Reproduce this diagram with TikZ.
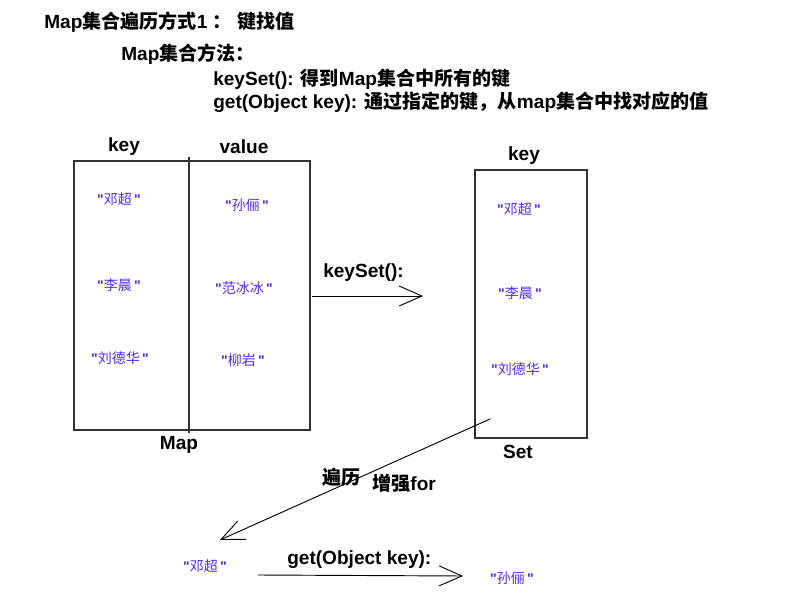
\documentclass[tikz,border=0pt]{standalone}
\usepackage{fontspec}
\setmainfont{Liberation Sans}
\newfontfamily\cjk{Noto Sans CJK SC}
\newfontfamily\qfont{Liberation Sans}
\newcommand{\zh}[1]{{\cjk #1}}
\newcommand{\q}[1]{{\qfont\bfseries"}\zh{#1}\,{\qfont\bfseries"}}
\definecolor{nameblue}{RGB}{80,40,240}
\usetikzlibrary{arrows.meta,positioning}

\begin{document}
\begin{tikzpicture}[x=0.75pt,y=-0.75pt,line cap=rect]
  \tikzstyle{boldtext}=[font=\fontsize{14.3}{16}\selectfont\bfseries,inner sep=0pt];
  \tikzstyle{person}=[font=\fontsize{10.5}{12}\selectfont,text=nameblue,inner sep=0pt];
  \tikzstyle{box}=[draw=black!80,line width=0.9pt,inner sep=0pt];
  \tikzstyle{barb}=[line width=0.7pt,-{Straight Barb[length=17pt,width=15pt,line width=0.7pt]}];
  \useasboundingbox (0,0) rectangle (793,613);

  % heading
  \node[boldtext,anchor=west] (title) at (44,22) {Map\zh{集合遍历方式}1 \zh{：}\ \zh{键找值}};
  \node[boldtext,anchor=west] (methods) at (121,54) {Map\zh{集合方法：}};
  \node[boldtext,anchor=west] (keyset) at (213,79) {keySet(): \zh{得到}Map\zh{集合中所有的键}};
  \node[boldtext,anchor=west] (getkey) at (213,102) {get(Object key): \zh{通过指定的键，从}map\zh{集合中找对应的值}};

  % map
  \node[box,minimum width=177pt,minimum height=201.75pt] (map) at (192,295.5) {};
  \draw[line width=0.9pt,black!80] (189,158) -- (189,432);
  \node[boldtext] (mapkey) at (124,147) {key};
  \node[boldtext] (mapvalue) at (244,147) {value};
  \node[boldtext] (maplabel) at (179,445) {Map};
  \node[person] (k1) at (119,199) {\q{邓超}};
  \node[person] (k2) at (119,285) {\q{李晨}};
  \node[person] (k3) at (120,358) {\q{刘德华}};
  \node[person] (v1) at (247,205) {\q{孙俪}};
  \node[person] (v2) at (244,288) {\q{范冰冰}};
  \node[person] (v3) at (243,360) {\q{柳岩}};

  % set
  \node[box,minimum width=84pt,minimum height=201pt] (set) at (531,304) {};
  \node[boldtext] (setkey) at (524,156) {key};
  \node[boldtext] (setlabel) at (518,452) {Set};
  \node[person] (s1) at (519,209) {\q{邓超}};
  \node[person] (s2) at (520,293) {\q{李晨}};
  \node[person] (s3) at (520,369) {\q{刘德华}};

  % keySet arrow
  \coordinate (kend) at (423,296);
  \draw[barb] (map.east |- kend) ++(2,0) -- (kend);
  \node[boldtext,anchor=west] (kslabel) at (323,273) {keySet():};

  % iterate
  \coordinate (istart) at (490,419);
  \node[person] (one) at (205,566) {\q{邓超}};
  \draw[barb] (istart) -- (220,540);
  \node[boldtext,anchor=west] (iter) at (322,477) {\zh{遍历}};
  \node[boldtext,anchor=west] (forloop) at (372,483) {\zh{增强}for};

  % get
  \node[person] (two) at (512,578) {\q{孙俪}};
  \coordinate (gstart) at (258,575);
  \coordinate (gend) at (463,576);
  \draw[barb] (gstart) -- (gend);
  \node[boldtext,anchor=west] (getlabel) at (287,560) {get(Object key):};
\end{tikzpicture}
\end{document}
